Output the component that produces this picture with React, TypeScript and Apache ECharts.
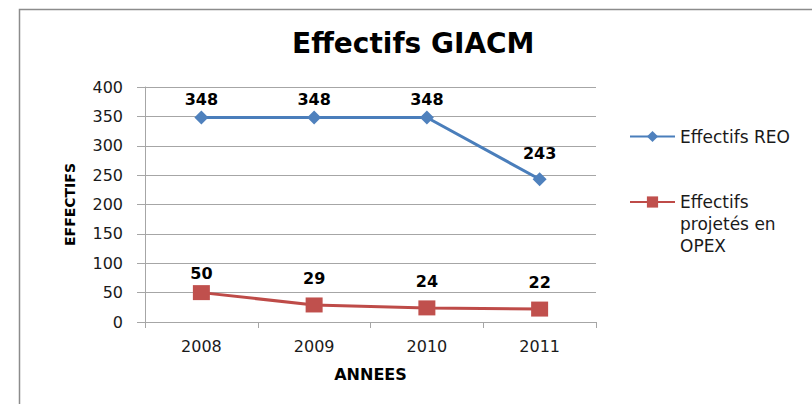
import React, { useEffect, useRef } from 'react';
import * as echarts from 'echarts';

const years = ['2008', '2009', '2010', '2011'];
const effectifsREO = [348, 348, 348, 243];
const effectifsOPEX = [50, 29, 24, 22];
const seriesNames = ['Effectifs REO', 'Effectifs projetés en OPEX'];
const legendTexts = ['Effectifs REO', '\n\nEffectifs\nprojetés en\nOPEX'];

// label gap above each point (style only)
const labelGapREO = [3, 3, 3, 11];
const labelGapOPEX = [4, 11, 11, 11];

const FONT = 'DejaVu Sans';

export default function App() {
  const ref = useRef<HTMLDivElement>(null);
  useEffect(() => {
    const chart = echarts.init(ref.current!, null, { renderer: 'svg' });
    const mk = (vals: number[], gaps: number[]) =>
      vals.map((v, i) => ({ value: v, label: { distance: gaps[i] } }));
    chart.setOption({
      animation: false,
      backgroundColor: '#ffffff',
      title: {
        text: 'Effectifs GIACM',
        left: 292,
        top: 29,
        padding: 0,
        textStyle: { fontFamily: FONT, fontWeight: 'bold', fontSize: 28, color: '#000' },
      },
      graphic: [
        {
          type: 'rect',
          z: -1,
          shape: { x: 19.5, y: 9.5, width: 1000, height: 1000 },
          style: { fill: 'none', stroke: '#8c8c8c', lineWidth: 1.5 },
        },
      ],
      legend: [
        {
          data: [seriesNames[0]],
          left: 629,
          top: 128,
          padding: 0,
          itemWidth: 45,
          itemHeight: 14,
          formatter: () => legendTexts[0],
          textStyle: { fontFamily: FONT, fontSize: 17, color: '#1a1a1a' },
        },
        {
          data: [seriesNames[1]],
          left: 629,
          top: 147,
          padding: 0,
          itemWidth: 45,
          itemHeight: 14,
          formatter: () => legendTexts[1],
          textStyle: {
            fontFamily: FONT,
            fontSize: 17,
            color: '#1a1a1a',
            lineHeight: 22,
          },
        },
      ],
      grid: { left: 145, right: 216, top: 87, bottom: 82 },
      xAxis: {
        type: 'category',
        data: years,
        boundaryGap: true,
        name: 'ANNEES',
        nameLocation: 'middle',
        nameGap: 44,
        nameTextStyle: { fontFamily: FONT, fontWeight: 'bold', fontSize: 16, color: '#000' },
        axisLine: { lineStyle: { color: '#a6a6a6', width: 1 } },
        axisTick: { show: true, length: 6, lineStyle: { color: '#a6a6a6' } },
        axisLabel: { fontFamily: FONT, fontSize: 16, color: '#1a1a1a', margin: 16 },
        splitLine: { show: false },
      },
      yAxis: {
        type: 'value',
        min: 0,
        max: 400,
        interval: 50,
        name: 'EFFECTIFS',
        nameLocation: 'middle',
        nameGap: 68,
        nameTextStyle: { fontFamily: FONT, fontWeight: 'bold', fontSize: 14, color: '#000' },
        axisLine: { show: true, lineStyle: { color: '#a6a6a6', width: 1 } },
        axisTick: { show: true, length: 8, lineStyle: { color: '#a6a6a6' } },
        axisLabel: { fontFamily: FONT, fontSize: 16, color: '#1a1a1a', margin: 22 },
        splitLine: { show: true, lineStyle: { color: '#a6a6a6', width: 1 } },
      },
      series: [
        {
          name: seriesNames[0],
          type: 'line',
          data: mk(effectifsREO, labelGapREO),
          symbol: 'diamond',
          symbolSize: 14,
          lineStyle: { color: '#4a7ebb', width: 3 },
          itemStyle: { color: '#4f81bd' },
          label: {
            show: true,
            position: 'top',
            fontFamily: FONT,
            fontWeight: 'bold',
            fontSize: 16,
            color: '#000',
          },
        },
        {
          name: seriesNames[1],
          type: 'line',
          data: mk(effectifsOPEX, labelGapOPEX),
          symbol: 'rect',
          symbolSize: [17, 15],
          lineStyle: { color: '#be4b48', width: 3 },
          itemStyle: { color: '#c0504d' },
          label: {
            show: true,
            position: 'top',
            fontFamily: FONT,
            fontWeight: 'bold',
            fontSize: 16,
            color: '#000',
          },
        },
      ],
    });
    return () => chart.dispose();
  }, []);
  return (
    <div
      ref={ref}
      style={{ position: 'absolute', left: 0, top: 0, width: 812, height: 404 }}
    />
  );
}
